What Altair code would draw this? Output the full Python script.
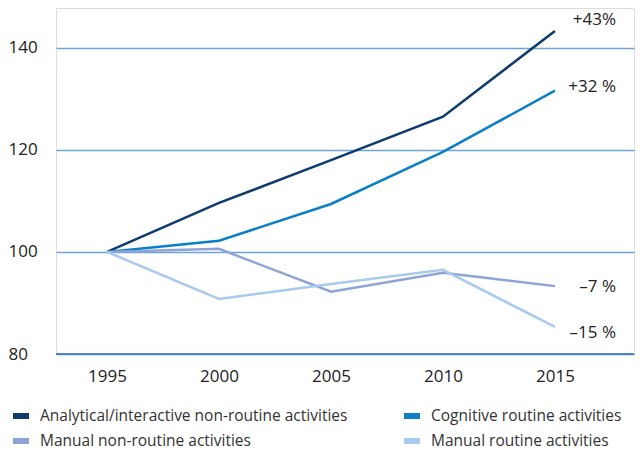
import altair as alt
import pandas as pd

years = [1995, 2000, 2005, 2010, 2015]
series_names = [
    "Analytical/interactive non-routine activities",
    "Cognitive routine activities",
    "Manual non-routine activities",
    "Manual routine activities",
]
analytical = [100, 109.6, 118.0, 126.5, 143.3]
cognitive = [100, 102.2, 109.4, 119.6, 131.6]
manual_nonroutine = [100, 100.6, 92.2, 95.9, 93.3]
manual_routine = [100, 90.8, 93.7, 96.5, 85.3]
colors = ["#0d3b6e", "#0a7fc7", "#8ea4d8", "#a8caec"]

end_labels = ["+43%", "+32 %", "\u20137 %", "\u201315 %"]
end_label_dy = [-11, -4, 1, 6]

y_ticks = [80, 100, 120, 140]
x_ticks = years

rows = []
for name, vals in zip(series_names, [analytical, cognitive, manual_nonroutine, manual_routine]):
    for yr, v in zip(years, vals):
        rows.append({"year": yr, "value": v, "series": name})
df = pd.DataFrame(rows)

FONT = "Open Sans"

xscale = alt.Scale(domain=[1992.72, 2018.53], nice=False, zero=False)
yscale = alt.Scale(domain=[80, 147.8], nice=False, zero=False)

x_axis = alt.Axis(values=x_ticks, format="d", title=None, domain=False, ticks=False,
                  grid=False, labelFontSize=17, labelColor="#222222",
                  labelPadding=14, labelFont=FONT)
y_axis = alt.Axis(values=y_ticks, title=None, domain=False, ticks=False,
                  grid=True, gridColor="#6fa3d9", gridWidth=1.3,
                  labelFontSize=17, labelColor="#222222", labelAlign="left",
                  labelPadding=48, labelFont=FONT)

lines = alt.Chart(df).mark_line(strokeWidth=2.5).encode(
    x=alt.X("year:Q", scale=xscale, axis=x_axis),
    y=alt.Y("value:Q", scale=yscale, axis=y_axis),
    color=alt.Color("series:N", scale=alt.Scale(domain=series_names, range=colors),
                    legend=alt.Legend(title=None, orient="none", legendX=-46, legendY=397,
                                      columns=2, direction="horizontal",
                                      symbolType="M-1,0H1", symbolSize=256,
                                      symbolStrokeWidth=6, labelFontSize=15.5,
                                      labelFont=FONT, labelColor="#333333",
                                      columnPadding=44, rowPadding=1,
                                      labelOffset=8, labelLimit=400)),
)

base_rule = alt.Chart(pd.DataFrame({"v": [y_ticks[0]]})).mark_rule(
    color="#2e6db4", strokeWidth=1.5).encode(y=alt.Y("v:Q", scale=yscale, axis=y_axis))

label_rows = []
for name, vals, lab, dy in zip(series_names, [analytical, cognitive, manual_nonroutine, manual_routine], end_labels, end_label_dy):
    label_rows.append({"year": years[-1], "value": vals[-1], "label": lab, "dy": dy})

texts = []
for r in label_rows:
    texts.append(
        alt.Chart(pd.DataFrame([r])).mark_text(
            align="right", baseline="middle", dx=61, dy=r["dy"], fontSize=17,
            font=FONT, color="#222222").encode(
            x=alt.X("year:Q", scale=xscale, axis=x_axis),
            y=alt.Y("value:Q", scale=yscale, axis=y_axis), text="label:N")
    )

chart = alt.layer(lines, base_rule, *texts).properties(
    width=578, height=346, padding={"left": 0, "top": 0, "right": 0, "bottom": 0}
).configure_view(stroke=None).configure(font=FONT)

chart.save("out.html", embed_options={"renderer": "svg", "actions": False})
